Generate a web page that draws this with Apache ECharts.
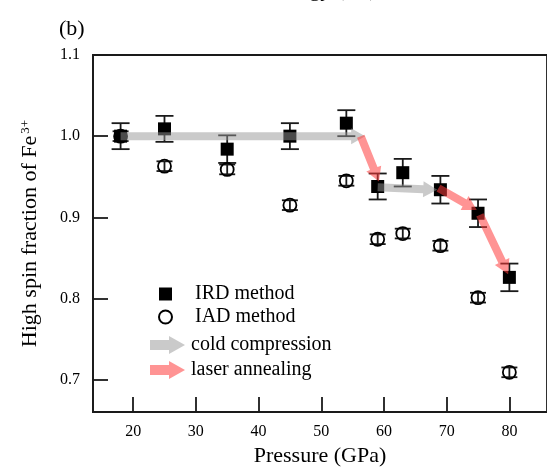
<!DOCTYPE html>
<html lang="en">
<head>
<meta charset="UTF-8">
<title>High spin fraction</title>
<script src="https://cdn.jsdelivr.net/npm/echarts@6/dist/echarts.min.js"></script>
<style>
  html, body { margin: 0; padding: 0; background: #fff; }
  #chart { width: 547px; height: 472px; }
</style>
</head>
<body>
<div id="chart"></div>
<script>
// values
const pressure = [18, 25, 35, 45, 54, 59, 63, 69, 75, 80]
const ird = [1.000, 1.009, 0.984, 1.000, 1.016, 0.938, 0.955, 0.934, 0.905, 0.826]
const irdErr = [0.016, 0.016, 0.017, 0.016, 0.016, 0.016, 0.017, 0.017, 0.017, 0.017]
const iad = [1.000, 0.963, 0.959, 0.915, 0.945, 0.873, 0.880, 0.865, 0.801, 0.709]
const iadErr = [0.006, 0.006, 0.006, 0.006, 0.006, 0.006, 0.006, 0.006, 0.006, 0.006]
// arrows: [x from, y from, x to, y to]
const coldArrows = [[18, 1.0, 57, 1.0], [59, 0.937, 68.5, 0.934]]
const laserArrows = [[56.3, 1.0, 59.2, 0.944], [68.7, 0.936, 74.8, 0.909], [75.3, 0.903, 79.8, 0.830]]
const xTicks = [20, 30, 40, 50, 60, 70, 80]
const yTicks = [0.7, 0.8, 0.9, 1.0, 1.1]

const FONT = "'Liberation Serif', 'Times New Roman', serif"
const INK = '#1a1a1a'
const GREY = 'rgba(150,150,150,0.5)'
const RED = 'rgba(255,60,60,0.55)'
const ARROW_ICON = 'path://M0,4 L19,4 L19,0 L35,9 L19,18 L19,14 L0,14 Z'

const chart = echarts.init(document.getElementById('chart'))

function errorBars(cap) {
  return function (params, api) {
    const x = api.value(0), y = api.value(1), e = api.value(2)
    const top = api.coord([x, y + e])
    const bot = api.coord([x, y - e])
    const st = { stroke: INK, lineWidth: 1.8 }
    return {
      type: 'group',
      children: [
        { type: 'line', shape: { x1: top[0], y1: top[1], x2: bot[0], y2: bot[1] }, style: st },
        { type: 'line', shape: { x1: top[0] - cap, y1: top[1], x2: top[0] + cap, y2: top[1] }, style: st },
        { type: 'line', shape: { x1: bot[0] - cap, y1: bot[1], x2: bot[0] + cap, y2: bot[1] }, style: st }
      ]
    }
  }
}

function arrows(color) {
  return function (params, api) {
    const a = api.coord([api.value(0), api.value(1)])
    const b = api.coord([api.value(2), api.value(3)])
    const dx = b[0] - a[0], dy = b[1] - a[1]
    const len = Math.hypot(dx, dy)
    const ux = dx / len, uy = dy / len
    const nx = -uy, ny = ux
    const hl = 14, sw = 4, hw = 8
    const bx = b[0] - ux * hl, by = b[1] - uy * hl
    const pts = [
      [a[0] + nx * sw, a[1] + ny * sw],
      [bx + nx * sw, by + ny * sw],
      [bx + nx * hw, by + ny * hw],
      [b[0], b[1]],
      [bx - nx * hw, by - ny * hw],
      [bx - nx * sw, by - ny * sw],
      [a[0] - nx * sw, a[1] - ny * sw]
    ]
    return { type: 'polygon', shape: { points: pts }, style: { fill: color } }
  }
}

const option = {
  animation: false,
  backgroundColor: '#fff',
  textStyle: { fontFamily: FONT },
  grid: {
    left: 93, right: -4, top: 55, bottom: 57,
    show: true, borderColor: INK, borderWidth: 1.8, backgroundColor: 'transparent'
  },
  graphic: [
    { type: 'text', left: 59, top: 18, style: { text: '(b)', font: '22px ' + FONT, fill: '#000' } },
    { type: 'text', x: 268, y: -9.5, style: { text: 'Energy (eV)', font: '22px ' + FONT, fill: '#000', verticalAlign: 'middle' } }
  ],
  legend: [
    {
      data: [{ name: 'IRD method', icon: 'rect' }, { name: 'IAD method', icon: 'circle' }],
      orient: 'vertical', left: 153, top: 279, itemWidth: 13, itemHeight: 13, itemGap: 3,
      selectedMode: false,
      textStyle: { fontFamily: FONT, fontSize: 20, lineHeight: 20, color: '#000', padding: [0, 0, 0, 18] }
    },
    {
      data: [
        { name: 'cold compression', icon: ARROW_ICON, itemStyle: { color: GREY } },
        { name: 'laser annealing', icon: ARROW_ICON, itemStyle: { color: RED } }
      ],
      orient: 'vertical', left: 145, top: 330, itemWidth: 35, itemHeight: 18, itemGap: 5,
      selectedMode: false,
      textStyle: { fontFamily: FONT, fontSize: 20, lineHeight: 20, color: '#000', padding: [0, 0, 0, 1] }
    }
  ],
  xAxis: {
    type: 'value', min: 13.6, max: 86,
    name: 'Pressure (GPa)', nameLocation: 'middle', nameGap: 32,
    nameTextStyle: { fontFamily: FONT, fontSize: 22, color: '#000' },
    axisLine: { onZero: false, lineStyle: { color: INK, width: 1.8 } },
    axisTick: { inside: true, length: 15, customValues: xTicks, lineStyle: { color: INK, width: 1.8 } },
    axisLabel: { customValues: xTicks, margin: 12, fontFamily: FONT, fontSize: 16, color: '#000' },
    splitLine: { show: false }
  },
  yAxis: {
    type: 'value', min: 0.66, max: 1.1,
    name: '{a|High spin fraction of Fe}{s|3+}', nameLocation: 'middle', nameGap: 52,
    nameTextStyle: {
      color: '#000',
      rich: {
        a: { fontFamily: FONT, fontSize: 22, color: '#000' },
        s: { fontFamily: FONT, fontSize: 13, color: '#000', verticalAlign: 'top', padding: [0, 0, 0, 2] }
      }
    },
    axisLine: { onZero: false, lineStyle: { color: INK, width: 1.8 } },
    axisTick: { inside: true, length: 15, customValues: yTicks, lineStyle: { color: INK, width: 1.8 } },
    axisLabel: {
      customValues: yTicks, margin: 13, fontFamily: FONT, fontSize: 16, color: '#000',
      formatter: v => v.toFixed(1)
    },
    splitLine: { show: false }
  },
  series: [
    {
      name: 'IRD err', type: 'custom', z: 2,
      data: pressure.map((p, i) => [p, ird[i], irdErr[i]]),
      encode: { x: 0, y: 1 },
      renderItem: errorBars(9)
    },
    {
      name: 'IAD err', type: 'custom', z: 2,
      data: pressure.map((p, i) => [p, iad[i], iadErr[i]]),
      encode: { x: 0, y: 1 },
      renderItem: errorBars(8)
    },
    {
      name: 'IRD method', type: 'scatter', z: 3,
      symbol: 'rect', symbolSize: 13,
      itemStyle: { color: '#000', opacity: 1 },
      emphasis: { disabled: true },
      data: pressure.map((p, i) => [p, ird[i]])
    },
    {
      name: 'IAD method', type: 'scatter', z: 3,
      symbol: 'circle', symbolSize: 13,
      itemStyle: { color: 'rgba(0,0,0,0)', borderColor: '#000', borderWidth: 1.8, opacity: 1 },
      emphasis: { disabled: true },
      data: pressure.map((p, i) => [p, iad[i]])
    },
    {
      name: 'cold compression', type: 'custom', z: 4,
      itemStyle: { color: GREY },
      data: coldArrows,
      encode: { x: [0, 2], y: [1, 3] },
      renderItem: arrows(GREY)
    },
    {
      name: 'laser annealing', type: 'custom', z: 4,
      itemStyle: { color: RED },
      data: laserArrows,
      encode: { x: [0, 2], y: [1, 3] },
      renderItem: arrows(RED)
    }
  ]
}

chart.setOption(option)
</script>
</body>
</html>
